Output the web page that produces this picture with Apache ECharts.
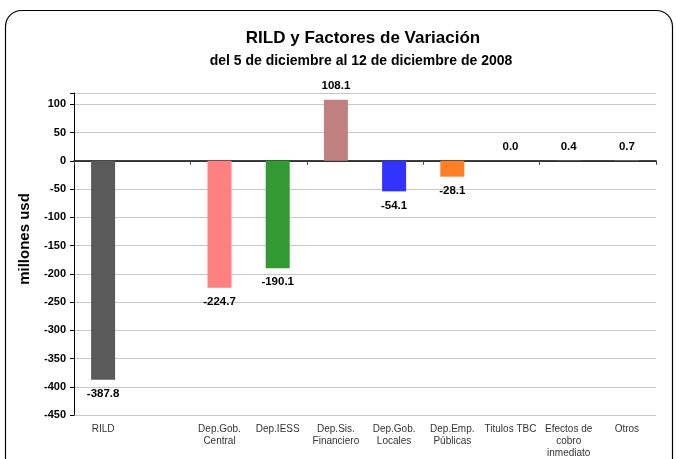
<!DOCTYPE html>
<html>
<head>
<meta charset="utf-8">
<script src="https://cdn.jsdelivr.net/npm/echarts@6/dist/echarts.min.js"></script>
<style>
  html, body { margin: 0; padding: 0; background: #fff; }
  #chart { width: 676px; height: 459px; }
</style>
</head>
<body>
<div id="chart"></div>
<script>
// categorias y valores (millones usd)
var categories = ['RILD', '', 'Dep.Gob.\nCentral', 'Dep.IESS', 'Dep.Sis.\nFinanciero',
  'Dep.Gob.\nLocales', 'Dep.Emp.\nPúblicas', 'Titulos TBC', 'Efectos de\ncobro\ninmediato', 'Otros'];
var values = [-387.8, null, -224.7, -190.1, 108.1, -54.1, -28.1, 0.0, 0.4, 0.7];
var barColors = ['#5a5a5a', '#ffffff', '#ff8080', '#339933', '#c08080', '#3333ff', '#ff7f27', '#999999', '#999999', '#999999'];
var yTicks = [-450, 100, 50]; // min, max label, intervalo

var chart = echarts.init(document.getElementById('chart'));

var seriesData = [];
for (var i = 0; i < values.length; i++) {
  var v = values[i];
  seriesData.push({
    value: v,
    itemStyle: { color: barColors[i] },
    label: { position: (v !== null && v < 0) ? 'bottom' : 'top' }
  });
}

chart.setOption({
  animation: false,
  title: [{
    text: 'RILD y Factores de Variación',
    left: 358, top: 25, textAlign: 'center',
    textStyle: { fontFamily: 'Liberation Sans', fontSize: 17, fontWeight: 'bold', color: '#000' }
  }, {
    text: 'del 5 de diciembre al 12 de diciembre de 2008',
    left: 356, top: 49, textAlign: 'center',
    textStyle: { fontFamily: 'Liberation Sans', fontSize: 14, fontWeight: 'bold', color: '#000' }
  }],
  graphic: [{
    type: 'rect',
    shape: { x: 5.5, y: 10.5, width: 667, height: 470, r: 16 },
    style: { fill: 'none', stroke: '#000', lineWidth: 1.2 },
    z: -1
  }],
  grid: { left: 74, right: 20, top: 93, bottom: 44 },
  xAxis: [{
    type: 'category',
    data: categories,
    position: 'bottom',
    axisLine: { show: false, onZero: false },
    axisTick: { show: false },
    axisLabel: {
      interval: 0, margin: 8, lineHeight: 12,
      fontFamily: 'Liberation Sans', fontSize: 10, color: '#333'
    }
  }, {
    type: 'category',
    data: categories,
    position: 'bottom',
    axisLine: { show: true, onZero: true, lineStyle: { color: '#000', width: 1.5 } },
    axisTick: { show: true, length: 4, inside: false, lineStyle: { color: '#444' } },
    axisLabel: { show: false }
  }],
  yAxis: {
    type: 'value',
    min: yTicks[0], max: 120, interval: yTicks[2],
    name: 'millones usd',
    nameLocation: 'middle',
    nameGap: 42,
    nameRotate: 90,
    nameTextStyle: { fontFamily: 'Liberation Sans', fontSize: 15, fontWeight: 'bold', color: '#000', padding: [0, 0, 0, 30] },
    axisLine: { show: true, lineStyle: { color: '#000' } },
    axisTick: { show: true, length: 4, lineStyle: { color: '#000' } },
    axisLabel: {
      fontFamily: 'Liberation Sans', fontSize: 11, fontWeight: 'bold', color: '#000', margin: 8,
      formatter: function (v) { return v > yTicks[1] ? '' : v; }
    },
    splitLine: { show: true, lineStyle: { color: '#c8c8c8', width: 1 } }
  },
  series: [{
    type: 'bar',
    xAxisIndex: 0,
    data: seriesData,
    barWidth: 24,
    label: {
      show: true,
      distance: 8,
      fontFamily: 'Liberation Sans', fontSize: 11.5, fontWeight: 'bold', color: '#000',
      formatter: function (p) { return p.value === null ? '' : p.value.toFixed(1); }
    }
  }]
});
</script>
</body>
</html>
